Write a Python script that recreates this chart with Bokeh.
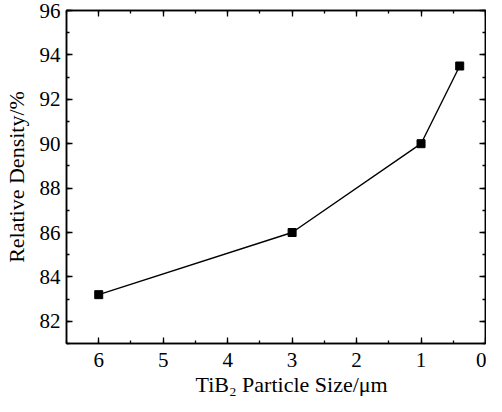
from bokeh.plotting import figure
from bokeh.models import Range1d, LinearAxis, SingleIntervalTicker, Title
from bokeh.embed import file_html
from bokeh.resources import INLINE

particle_size = [6, 3, 1, 0.4]
relative_density = [83.2, 86.0, 90.0, 93.5]
x_label = "TiB\u2082 Particle Size/μm"
y_label = "Relative Density/%"

FONT = "Liberation Serif"

p = figure(width=486, height=396, output_backend="svg", toolbar_location=None,
           x_range=Range1d(6.5, 0), y_range=Range1d(81, 96),
           min_border_left=60, min_border_right=1, min_border_top=10, min_border_bottom=0,
           x_axis_location=None, y_axis_location=None)
p.grid.visible = False
p.outline_line_color = "black"
p.outline_line_width = 1.5
p.background_fill_color = "white"
p.border_fill_color = "white"

def make_axis(kind, loc, labels):
    if kind == "x":
        tk = SingleIntervalTicker(interval=1, num_minor_ticks=2)
    else:
        tk = SingleIntervalTicker(interval=2, num_minor_ticks=2)
    ax = LinearAxis(ticker=tk)
    ax.axis_line_width = 1.5
    ax.axis_line_color = "black"
    ax.major_tick_in = 6
    ax.major_tick_out = 0
    ax.minor_tick_in = 3
    ax.minor_tick_out = 0
    ax.major_tick_line_width = 1.3
    ax.minor_tick_line_width = 1.3
    if labels:
        ax.major_label_text_font = FONT
        ax.major_label_text_font_size = "21px"
        ax.major_label_text_color = "black"
    else:
        ax.major_label_text_font_size = "0px"
        ax.major_label_text_alpha = 0
        ax.major_label_standoff = 0
    p.add_layout(ax, loc)
    return ax

xb = make_axis("x", "below", True)
xb.major_label_standoff = 9
yl = make_axis("y", "left", True)
yl.major_label_standoff = 6
yl.axis_label = y_label
yl.axis_label_text_font = FONT
yl.axis_label_text_font_size = "22px"
yl.axis_label_text_font_style = "normal"
yl.axis_label_text_color = "black"
yl.axis_label_standoff = 8
make_axis("x", "above", False)
make_axis("y", "right", False)

p.line(particle_size, relative_density, line_color="black", line_width=1.4)
p.scatter(particle_size, relative_density, marker="square", size=8,
          fill_color="black", line_color="black")

p.add_layout(Title(text=x_label, align="left", offset=129, standoff=0,
                   text_font=FONT, text_font_size="22px", text_font_style="normal",
                   text_color="black"), "below")

open("out.html", "w").write(file_html(p, INLINE))
